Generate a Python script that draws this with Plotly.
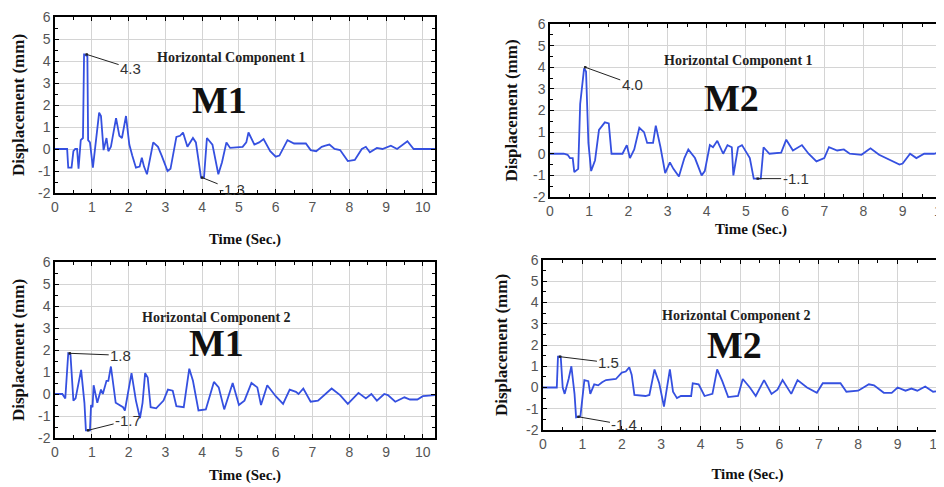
import plotly.graph_objects as go

# ---------------- data ----------------
# M1 - Horizontal Component 1
t_m1_h1 = [0, 0.33, 0.36, 0.45, 0.5, 0.55, 0.6, 0.64, 0.7, 0.76, 0.79, 0.8, 0.85, 0.88, 0.9, 0.95,
           1.03, 1.1, 1.2, 1.25, 1.32, 1.4, 1.45, 1.52, 1.66, 1.75, 1.82, 1.93, 2.02, 2.1, 2.2, 2.3,
           2.36, 2.42, 2.5, 2.67, 2.8, 2.9, 3.06, 3.14, 3.3, 3.4, 3.48, 3.6, 3.75, 3.83, 3.97, 4.05,
           4.13, 4.28, 4.44, 4.54, 4.66, 4.76, 5.1, 5.2, 5.26, 5.42, 5.55, 5.67, 5.85, 6.0, 6.1, 6.32,
           6.5, 6.82, 6.95, 7.1, 7.25, 7.35, 7.46, 7.6, 7.75, 7.96, 8.15, 8.34, 8.45, 8.56, 8.75,
           8.9, 9.13, 9.3, 9.58, 9.75, 10.33]
d_m1_h1 = [0, 0, -0.85, -0.85, -0.1, 0, 0, -0.9, 0.4, 0.5, 4.3, 4.3, 4.25, 4.3, 0.4, 0.3,
           -0.85, 0.3, 1.65, 1.5, -0.05, 0.5, -0.1, 0.1, 1.4, 0.6, 0.5, 1.5, 0.2, -0.3, -0.85, -0.8,
           -0.4, -0.8, -1.15, 0.3, 0.1, -0.3, -1.0, -0.9, 0.55, 0.6, 0.75, 0.1, 0.5, 0.3, -1.3, -1.3,
           0.5, 0.2, -1.15, -0.6, 0.3, 0.05, 0.1, 0.3, 0.75, 0.2, 0.3, 0.45, -0.1, -0.35, -0.3, 0.4,
           0.25, 0.25, -0.05, -0.1, 0.1, 0.15, 0.2, 0.0, -0.05, -0.55, -0.5, 0.0, 0.1, -0.15, 0.05,
           0.0, 0.15, 0.0, 0.35, 0.0, 0.0]

# M2 - Horizontal Component 1
t_m2_h1 = [0, 0.35, 0.45, 0.51, 0.58, 0.62, 0.72, 0.77, 0.87, 0.92, 0.98, 1.05, 1.15, 1.25, 1.4,
           1.5, 1.57, 1.85, 1.96, 2.04, 2.15, 2.28, 2.4, 2.48, 2.63, 2.7, 2.82, 2.94, 3.06, 3.15,
           3.29, 3.43, 3.53, 3.7, 3.87, 3.95, 4.08, 4.16, 4.27, 4.42, 4.53, 4.64, 4.68, 4.8, 4.9,
           5.1, 5.2, 5.38, 5.45, 5.6, 5.9, 6.03, 6.2, 6.43, 6.6, 6.8, 7.0, 7.12, 7.33, 7.5, 7.65,
           7.95, 8.1, 8.18, 8.4, 8.7, 8.92, 9.0, 9.19, 9.35, 9.55, 9.8, 10.0, 10.1, 10.3]
d_m2_h1 = [0, 0, -0.05, -0.2, -0.2, -0.85, -0.7, 2.3, 3.95, 3.8, 0.5, -0.8, -0.3, 1.1, 1.45,
           1.4, 0.0, 0.0, 0.4, -0.2, 0.2, 1.2, 1.0, 0.5, 0.5, 1.3, 0.3, -0.9, -0.4, -0.7,
           -1.05, -0.2, 0.2, -0.2, -1.0, -0.8, 0.4, 0.3, 0.6, 0.0, 0.4, 0.3, -1.0, 0.3, 0.4,
           -0.2, -1.15, -1.15, 0.3, 0.0, 0.05, 0.65, 0.15, 0.4, 0.0, -0.35, -0.2, 0.3, 0.15, 0.2, 0.0,
           -0.05, 0.15, 0.25, -0.05, -0.3, -0.5, -0.45, 0.0, -0.2, 0.0, 0.0, 0.1, 0.05, 0.05]

# M1 - Horizontal Component 2
t_m1_h2 = [0, 0.2, 0.28, 0.36, 0.42, 0.5, 0.56, 0.65, 0.71, 0.8, 0.84, 0.95, 0.98, 1.02, 1.05,
           1.15, 1.25, 1.3, 1.4, 1.45, 1.52, 1.65, 1.85, 1.9, 2.08, 2.2, 2.31, 2.38, 2.45, 2.52,
           2.6, 2.75, 2.95, 3.07, 3.2, 3.3, 3.5, 3.65, 3.75, 3.9, 4.1, 4.32, 4.45, 4.6, 4.83, 5.0,
           5.15, 5.34, 5.5, 5.6, 5.77, 6.0, 6.2, 6.38, 6.55, 6.62, 6.75, 6.95, 7.15, 7.52, 7.75,
           7.96, 8.1, 8.25, 8.45, 8.6, 8.75, 8.95, 9.05, 9.25, 9.5, 9.65, 9.85, 10.0, 10.33]
d_m1_h2 = [0, 0, -0.2, 1.85, 1.8, -0.3, -0.2, 0.5, 1.1, -0.4, -1.65, -1.65, -0.5, -0.6, 0.4,
           -0.4, 0.2, 0.0, 0.6, 0.6, 1.25, -0.4, -0.6, -0.75, 0.95, -0.3, -1.1, -0.4, 0.95, 0.75,
           -0.6, -0.65, -0.3, 0.2, 0.15, -0.55, -0.6, 1.15, 0.6, -0.75, -0.7, 0.55, 0.3, -0.7, 0.5, -0.5,
           -0.3, 0.5, 0.3, -0.5, 0.4, -0.1, -0.45, 0.2, 0.1, 0.0, 0.25, -0.35, -0.3, 0.25, -0.05,
           -0.45, -0.2, 0.05, -0.2, 0.0, -0.3, 0.0, -0.05, -0.35, -0.15, -0.25, -0.25, -0.1, -0.05]

# M2 - Horizontal Component 2
t_m2_h2 = [0, 0.35, 0.38, 0.45, 0.5, 0.55, 0.65, 0.72, 0.8, 0.84, 0.95, 1.0, 1.05, 1.15, 1.2,
           1.3, 1.4, 1.5, 1.6, 1.85, 2.0, 2.1, 2.19, 2.25, 2.32, 2.6, 2.7, 2.83, 2.95, 3.07, 3.15,
           3.22, 3.3, 3.4, 3.5, 3.76, 3.8, 3.95, 4.1, 4.3, 4.42, 4.55, 4.7, 4.95, 5.07, 5.25, 5.4,
           5.61, 5.8, 5.95, 6.08, 6.3, 6.46, 6.7, 6.95, 7.1, 7.55, 7.7, 8.0, 8.27, 8.4, 8.65, 8.85,
           9.0, 9.2, 9.35, 9.5, 9.7, 9.9, 10.1, 10.2, 10.4]
d_m2_h2 = [0, 0, 1.45, 1.45, 0.0, -0.3, 0.4, 1.0, -0.3, -1.4, -1.35, -0.6, 0.35, 0.3, -0.3,
           0.15, 0.1, 0.25, 0.35, 0.4, 0.7, 0.75, 0.95, 0.6, -0.35, -0.4, -0.35, 0.85, 0.2, -0.9, 0.0,
           0.85, -0.2, -0.5, -0.4, -0.4, 0.2, 0.15, -0.4, -0.3, 0.85, 0.3, -0.45, -0.4, 0.4, 0.0, -0.4,
           0.35, -0.3, -0.1, 0.35, -0.3, 0.35, 0.0, -0.25, 0.2, 0.2, -0.2, -0.15, 0.15, 0.1, -0.25, -0.25,
           0.0, -0.15, -0.05, -0.15, 0.05, -0.2, -0.15, 0.0, 0.0]

x_tick_vals = [0, 1, 2, 3, 4, 5, 6, 7, 8, 9, 10]
x_tick_text = ["0", "1", "2", "3", "4", "5", "6", "7", "8", "9", "10"]
y_tick_vals = [-2, -1, 0, 1, 2, 3, 4, 5, 6]
y_tick_text = ["-2", "-1", "0", "1", "2", "3", "4", "5", "6"]

panel_component = ["Horizontal Component 1", "Horizontal Component 1",
                   "Horizontal Component 2", "Horizontal Component 2"]
panel_model = ["M1", "M2", "M1", "M2"]
peaks = [(0.86, 4.3, "4.3"), (0.9, 4.0, "4.0"), (0.4, 1.85, "1.8"), (0.43, 1.45, "1.5")]
troughs = [(4.0, -1.3, "-1.3"), (5.3, -1.15, "-1.1"), (0.9, -1.65, "-1.7"), (0.9, -1.38, "-1.4")]

series = [(t_m1_h1, d_m1_h1), (t_m2_h1, d_m2_h1), (t_m1_h2, d_m1_h2), (t_m2_h2, d_m2_h2)]

# ---------------- layout geometry ----------------
W, H = 944, 487
OFF = 8  # page body margin
# panel pixel boxes on the page: (left, right, top, bottom), x range max
boxes = [(55, 435, 17, 193, 10.33), (550, 952, 24, 197, 10.26),
         (55, 435, 262, 438, 10.33), (543, 952, 260, 430, 10.38)]
xstand = [20, 6, 11, 18]
ystand = [9, 11, 9, 14]
# label offsets (pixels) for peak / trough annotations
peak_off = [(44, 14), (47, 17), (51, 2), (49, 6)]
trough_off = [(30, 12), (38, 0), (40, -10), (46, 8)]
# positions of panel texts (data coords)
comp_pos = [(4.81, 4.18), (4.8, 4.3), (4.4, 3.5), (4.92, 3.41)]
model_pos = [(4.48, 2.23), (4.64, 2.58), (4.4, 2.32), (4.87, 2.0)]

BLUE = "#3550e0"
fig = go.Figure()
annotations = []
layout = dict(width=W, height=H, margin=dict(l=0, r=0, t=0, b=0),
              paper_bgcolor="white", plot_bgcolor="white", showlegend=False)

for i, ((t, d), (l, r, tp, bt, xmax)) in enumerate(zip(series, boxes)):
    n = "" if i == 0 else str(i + 1)
    xa, ya = "x" + n, "y" + n
    fig.add_trace(go.Scatter(x=t, y=d, mode="lines", line=dict(color=BLUE, width=1.8),
                             xaxis=xa, yaxis=ya, hoverinfo="skip"))
    common = dict(showline=True, linecolor="black", linewidth=1.5, mirror="ticks",
                  ticks="inside", ticklen=4, tickcolor="black", tickwidth=1, automargin=False,
                  showgrid=True, gridcolor="#d4d4d4", gridwidth=1, zeroline=False,
                  tickfont=dict(family="Liberation Sans Narrow, Liberation Sans, Arial", size=14, color="#555"),
                  minor=dict(ticks="inside", ticklen=3, tickcolor="black", dtick=0.5, showgrid=False))
    x0, x1 = (l - OFF) / W, min(1.0, (r - OFF) / W)
    y0, y1 = 1 - (bt - OFF) / H, 1 - (tp - OFF) / H
    layout["xaxis" + n] = dict(common, domain=[x0, x1], range=[0, xmax], anchor=ya,
                               tickmode="array", tickvals=x_tick_vals, ticktext=x_tick_text,
                               title=dict(text="<b>Time (Sec.)</b>", standoff=xstand[i],
                                          font=dict(family="Liberation Serif", size=15, color="#111")))
    layout["yaxis" + n] = dict(common, domain=[y0, y1], range=[-2, 6], anchor=xa,
                               tickmode="array", tickvals=y_tick_vals, ticktext=y_tick_text,
                               title=dict(text="<b>Displacement (mm)</b>", standoff=ystand[i],
                                          font=dict(family="Liberation Serif", size=17, color="#111")))
    for (px, py, txt), (ax, ay) in ((peaks[i], peak_off[i]), (troughs[i], trough_off[i])):
        annotations.append(dict(x=px, y=py, xref=xa, yref=ya, text=txt, showarrow=True,
                                arrowhead=7, arrowsize=0.6, arrowwidth=1, arrowcolor="#222",
                                ax=ax, ay=ay, font=dict(family="Liberation Sans", size=15, color="#333")))
    annotations.append(dict(x=comp_pos[i][0], y=comp_pos[i][1], xref=xa, yref=ya,
                            text="<b>" + panel_component[i] + "</b>", showarrow=False,
                            font=dict(family="Liberation Serif", size=14, color="#222")))
    annotations.append(dict(x=model_pos[i][0], y=model_pos[i][1], xref=xa, yref=ya,
                            text="<b>" + panel_model[i] + "</b>", showarrow=False,
                            font=dict(family="Liberation Serif", size=38, color="#111")))

layout["annotations"] = annotations
fig.update_layout(**layout)
fig.write_html("out.html")
